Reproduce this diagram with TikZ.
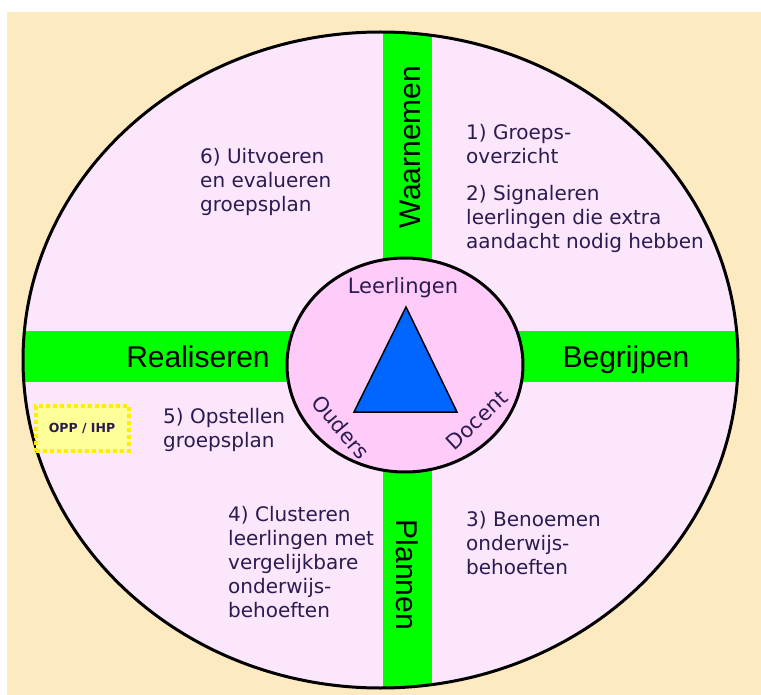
\documentclass[tikz,border=0pt]{standalone}
\usepackage{fontspec}
\setmainfont{DejaVu Sans}
\newfontfamily\barfont{Liberation Sans}

\definecolor{pagebeige}{HTML}{FEEAC0}
\definecolor{wheelpink}{HTML}{FCE6FC}
\definecolor{hubpink}{HTML}{FFCCFA}
\definecolor{bargreen}{HTML}{00FF00}
\definecolor{triblue}{HTML}{0066FF}
\definecolor{navytext}{HTML}{2A1C50}
\definecolor{oppyellow}{HTML}{FFEE00}
\definecolor{oppfill}{HTML}{FFFF99}

\tikzset{
	steptext/.style={anchor=north west, inner sep=0pt, align=left, text=navytext, font=\fontsize{20}{24}\selectfont},
	hublabel/.style={inner sep=0pt, text=navytext, font=\fontsize{21}{24}\selectfont},
	barlabel/.style={anchor=base, inner sep=0pt, font=\barfont\fontsize{30}{32}\selectfont},
	oppbox/.style={draw=oppyellow, fill=oppfill, line width=4pt, dash pattern=on 4pt off 3pt, minimum width=93pt, minimum height=45pt, inner sep=0pt, font=\bfseries\fontsize{12.5}{14}\selectfont, text=navytext}
}

\begin{document}
\begin{tikzpicture}[x=1pt, y=-1pt]
	\useasboundingbox (0,0) rectangle (761,695);
	\fill[pagebeige] (7,12) rectangle (761,695);

	\coordinate (wheel) at (380.5,360);
	\coordinate (hub) at (405,365);

	%outer wheel with the green cross
	\fill[wheelpink] (wheel) ellipse [x radius=357.5, y radius=328];
	\begin{scope}
	\clip (wheel) ellipse [x radius=357.5, y radius=328];
	\foreach \a/\b/\c/\d in {0/331/761/382, 383/0/432/695}{
	\fill[bargreen] (\a,\b) rectangle (\c,\d);}
	\end{scope}
	\draw[line width=3pt] (wheel) ellipse [x radius=357.5, y radius=328];

	%inner hub
	\draw[fill=hubpink, line width=3pt] (hub) ellipse [x radius=118, y radius=107];
	\draw[fill=triblue, line width=1.5pt, line join=miter] (406,307) -- (354,412) -- (457,412) -- cycle;

	\node[hublabel] (leerlingen) at (403,288) {Leerlingen};
	\node[hublabel, rotate=-50] (ouders) at (341,427) {Ouders};
	\node[hublabel, rotate=43] (docent) at (477,420) {Docent};

	%bar labels
	\node[barlabel, rotate=90] (waarnemen) at (420,147) {Waarnemen};
	\node[barlabel] (begrijpen) at (626,367) {Begrijpen};
	\node[barlabel, rotate=-90] (plannen) at (396,575) {Plannen};
	\node[barlabel] (realiseren) at (198,367) {Realiseren};

	%steps
	\node[steptext] (groeps) at (466,124) {1) Groeps-\\overzicht};
	\node[steptext] (signaleren) at (466,185) {2) Signaleren\\leerlingen die extra\\aandacht nodig hebben};
	\node[steptext] (benoemen) at (466,511) {3) Benoemen\\onderwijs-\\behoeften};
	\node[steptext] (clusteren) at (228,506) {4) Clusteren\\leerlingen met\\vergelijkbare\\onderwijs-\\behoeften};
	\node[steptext] (opstellen) at (163,408) {5) Opstellen\\groepsplan};
	\node[steptext] (uitvoeren) at (200,148) {6) Uitvoeren\\en evalueren\\groepsplan};

	\node[oppbox] (opp) at (82,428) {OPP / IHP};
\end{tikzpicture}
\end{document}
